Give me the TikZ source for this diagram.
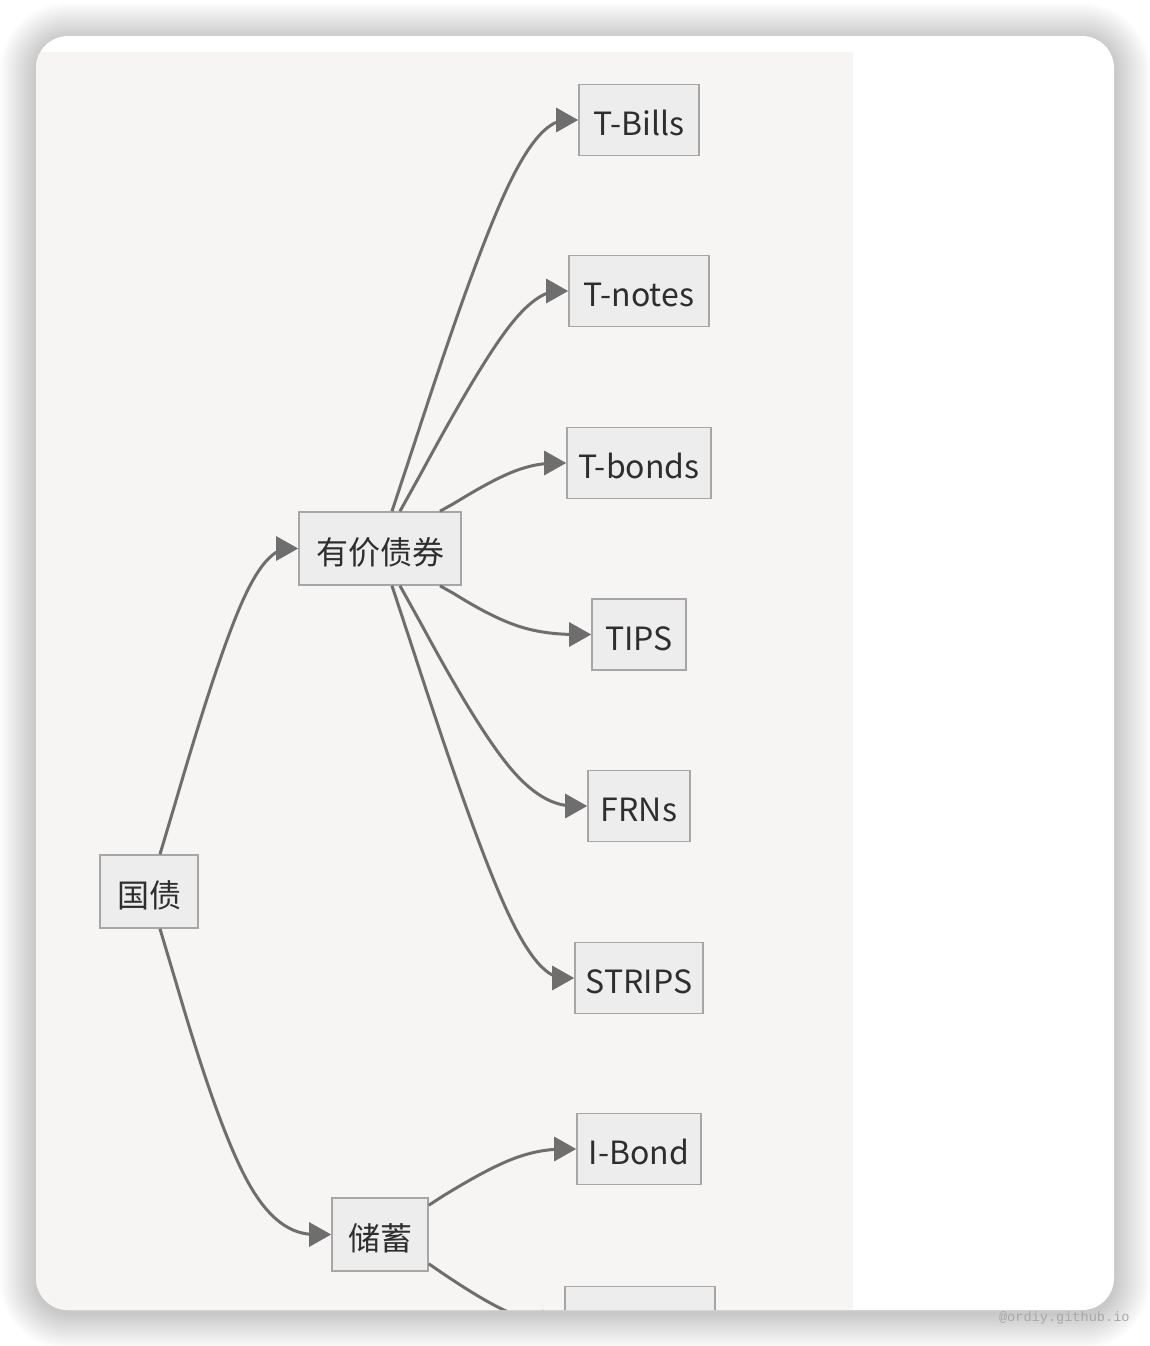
\documentclass[tikz,border=0pt]{standalone}
\usepackage{fontspec}
\setmainfont{Noto Sans CJK SC}
\newfontfamily\wmfont{Liberation Mono}
\usetikzlibrary{arrows.meta,calc}
\definecolor{panel}{HTML}{F6F5F4}
\definecolor{boxfill}{HTML}{EDEDED}
\definecolor{boxline}{HTML}{A6A6A6}
\definecolor{edgec}{HTML}{6E6E6E}
\definecolor{txt}{HTML}{2E2E2E}
\definecolor{wm}{HTML}{A8A8A8}
\tikzset{
  box/.style={draw=boxline, line width=0.8pt, fill=boxfill, inner sep=0pt,
    minimum height=35.5pt, text height=15.6pt, text depth=0pt,
    text=txt, font=\fontsize{16pt}{18pt}\selectfont},
  bigbox/.style={box, minimum height=36.5pt},
  edge/.style={draw=edgec, line width=1.5pt, -{Triangle[length=11pt,width=12pt]}},
}
\begin{document}
\begin{tikzpicture}[x=0.5pt,y=-0.5pt]
\useasboundingbox (0,0) rectangle (1150,1346);
\fill[white] (0,0) rectangle (1150,1346);
% shadow
\foreach \i [evaluate=\i as \r using 16+\i] in {18,17,...,1} {
  \fill[black, opacity=0.011, rounded corners=\r pt]
    (36-2*\i,36-2*\i+3) rectangle (1114+2*\i,1310+2*\i+3);
}
% card
\fill[white, rounded corners=16pt] (36,36) rectangle (1114,1310);
\begin{scope}
\clip[rounded corners=16pt] (36,36) rectangle (1114,1310);
\fill[panel] (36,52) rectangle (853,1312);

% nodes
\node[bigbox, minimum width=49pt] (gz) at (149,891.5) {国债};
\node[bigbox, minimum width=81pt] (hy) at (380,548.5) {有价债券};
\node[bigbox, minimum width=48pt] (cx) at (380,1234.5) {储蓄};
\node[box, minimum width=60pt] (tb) at (639,120) {T-Bills};
\node[box, minimum width=70pt] (tn) at (639,291) {T-notes};
\node[box, minimum width=72pt] (td) at (639,463) {T-bonds};
\node[box, minimum width=47pt] (tp) at (639,634.5) {TIPS};
\node[box, minimum width=51pt] (fr) at (639,806) {FRNs};
\node[box, minimum width=64pt] (st) at (639,978) {STRIPS};
\node[box, minimum width=62pt] (ib) at (639,1149) {I-Bond};
\node[box, minimum width=75pt] (nx) at (640,1322) {};

% edges
\draw[edge] ($(gz.north)+(11,0)$) -- (175,803.9)
  .. controls (190,752.8) and (220,650.7) .. (243.2,599.6)
  .. controls (266.3,548.5) and (282.7,548.5) .. (290.8,548.5) -- (hy.west);
\draw[edge] ($(gz.south)+(11,0)$) -- (175,979.1)
  .. controls (190,1030.2) and (220,1132.3) .. (248.7,1183.4)
  .. controls (277.3,1234.5) and (304.7,1234.5) .. (318.3,1234.5) -- (cx.west);

\draw[edge] ($(hy.north)+(12,0)$) -- (413.3,446.7)
  .. controls (434.7,381.3) and (477.3,250.7) .. (508.5,185.3)
  .. controls (539.7,120) and (559.3,120) .. (569.2,120) -- (tb.west);
\draw[edge] ($(hy.north)+(20,0)$) -- (420,475.2)
  .. controls (440,438.3) and (480,364.7) .. (508.2,327.8)
  .. controls (536.3,291) and (552.7,291) .. (560.8,291) -- (tn.west);
\draw[edge] ($(hy.north)+(60,0)$) -- (453.3,503.8)
  .. controls (466.7,495.7) and (493.3,479.3) .. (514.5,471.2)
  .. controls (535.7,463) and (551.3,463) .. (559.2,463) -- (td.west);
\draw[edge] ($(hy.south)+(60,0)$) -- (453.3,593.25)
  .. controls (466.7,601.5) and (493.3,618) .. (518.7,626.25)
  .. controls (544,634.5) and (568,634.5) .. (580,634.5) -- (tp.west);
\draw[edge] ($(hy.south)+(20,0)$) -- (420,621.8)
  .. controls (440,658.7) and (480,732.3) .. (511.3,769.2)
  .. controls (542.7,806) and (565.3,806) .. (576.7,806) -- (fr.west);
\draw[edge] ($(hy.south)+(12,0)$) -- (413.3,650.5)
  .. controls (434.7,716) and (477.3,847) .. (507.8,912.5)
  .. controls (538.3,978) and (556.7,978) .. (565.8,978) -- (st.west);

\draw[edge] ($(cx.east)+(0,-29.3)$) -- (443.3,1195.8)
  .. controls (458.7,1186.5) and (489.3,1167.7) .. (514.2,1158.4)
  .. controls (539,1149) and (558,1149) .. (567.5,1149) -- (ib.west);
\draw[edge] ($(cx.east)+(0,29.3)$) -- (443.3,1273.8)
  .. controls (458.7,1284) and (487,1303) .. (510.5,1313)
  .. controls (535,1322) and (550,1322) .. (557.5,1322) -- (nx.west);
\end{scope}

\node[font=\wmfont\fontsize{6.8pt}{8pt}\selectfont, text=wm, anchor=east, inner sep=0pt] (wmk) at (1130,1318) {@ordiy.github.io};
\end{tikzpicture}
\end{document}
